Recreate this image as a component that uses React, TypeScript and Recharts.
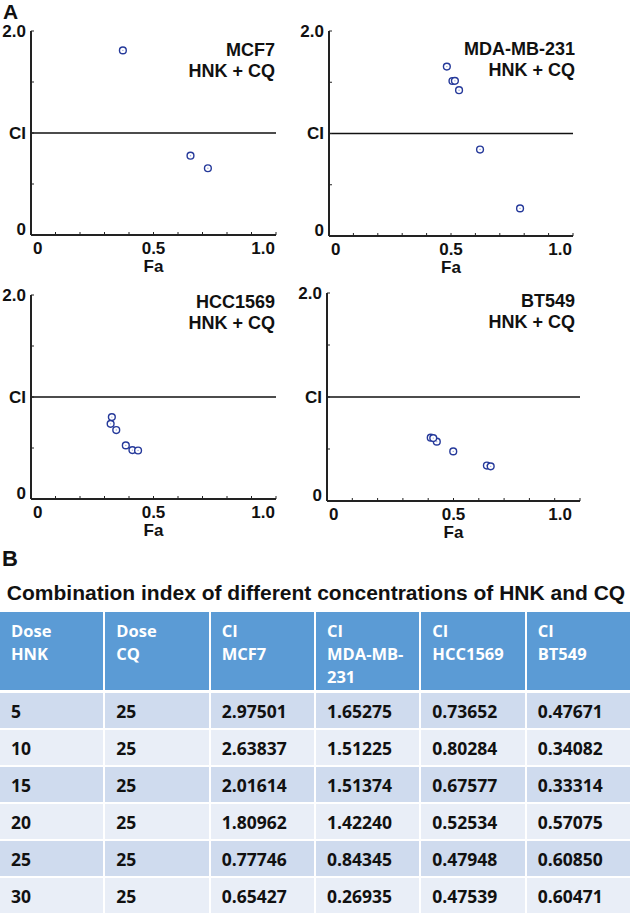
import { ScatterChart, Scatter, XAxis, YAxis, ReferenceLine } from 'recharts';

// table B values
const doseHNK = [5, 10, 15, 20, 25, 30];
const doseCQ = [25, 25, 25, 25, 25, 25];
const ciMCF7 = [2.97501, 2.63837, 2.01614, 1.80962, 0.77746, 0.65427];
const ciMDA = [1.65275, 1.51225, 1.51374, 1.4224, 0.84345, 0.26935];
const ciHCC = [0.73652, 0.80284, 0.67577, 0.52534, 0.47948, 0.47539];
const ciBT = [0.47671, 0.34082, 0.33314, 0.57075, 0.6085, 0.60471];

// Fa (null = CI above 2.0, point not on the plot)
const faMCF7 = [null, null, null, 0.375, 0.651, 0.722];
const faMDA = [0.483, 0.506, 0.516, 0.533, 0.619, 0.783];
const faHCC = [0.325, 0.33, 0.348, 0.387, 0.414, 0.437];
const faBT = [0.499, 0.632, 0.647, 0.434, 0.41, 0.42];

const faTicks = [0, 0.1, 0.2, 0.3, 0.4, 0.5, 0.6, 0.7, 0.8, 0.9, 1];
const ciTicks = [0, 0.5, 1, 1.5, 2];
const faLabels: Record<number, string> = { 0: '0', 0.5: '0.5', 1: '1.0' };
const ciLabels: Record<number, string> = { 0: '0', 1: 'CI', 2: '2.0' };

const tableHeaders = ['Dose\nHNK', 'Dose\nCQ', 'CI\nMCF7', 'CI\nMDA-MB-231', 'CI\nHCC1569', 'CI\nBT549'];

const AXIS = '#222';
const MARK = '#25399a';
const FONT = '"Liberation Sans", Arial, sans-serif';
const Y_W = 30;
const X_H = 30;

const panels = [
  { name: 'MCF7', ci: ciMCF7, fa: faMCF7, left: 0, top: 0, w: 300, h: 280, plot: { l: 31, t: 31, r: 276, b: 235 }, titleRight: 275, titleTop: 40, endDx: 0 },
  { name: 'MDA-MB-231', ci: ciMDA, fa: faMDA, left: 290, top: 0, w: 330, h: 280, plot: { l: 329, t: 31, r: 573, b: 236 }, titleRight: 575, titleTop: 39, endDx: 0 },
  { name: 'HCC1569', ci: ciHCC, fa: faHCC, left: 0, top: 265, w: 300, h: 285, plot: { l: 31, t: 295, r: 276, b: 499 }, titleRight: 275, titleTop: 292, endDx: 0 },
  { name: 'BT549', ci: ciBT, fa: faBT, left: 290, top: 265, w: 330, h: 285, plot: { l: 327, t: 293, r: 580, b: 501 }, titleRight: 575, titleTop: 291, endDx: -7 },
];

function Ring(props: any) {
  const { cx, cy } = props;
  return (
    <g>
      <circle cx={cx} cy={cy} r={3.4} fill="#fff" stroke={MARK} strokeWidth={1.4} />
      <circle cx={cx} cy={cy} r={0.7} fill="#9aa6d6" />
    </g>
  );
}

function FaTick(props: any) {
  const { x, y, payload, endDx } = props;
  const v = payload.value;
  const label = faLabels[v];
  const anchor = v === 0 ? 'start' : v === 1 ? 'end' : 'middle';
  const dx = v === 0 ? 2 : v === 1 ? -1 + endDx : 0;
  return (
    <g>
      <line x1={x} x2={x} y1={y} y2={y - 3} stroke={AXIS} strokeWidth={1} />
      {label && (
        <text x={x + dx} y={y + 13} textAnchor={anchor} dominantBaseline="central" fontFamily={FONT} fontWeight="bold" fontSize={17} fill="#111">
          {label}
        </text>
      )}
    </g>
  );
}

function CiTick(props: any) {
  const { x, y, payload } = props;
  const v = payload.value;
  const label = ciLabels[v];
  return (
    <g>
      <line x1={x} x2={x + 3} y1={y} y2={y} stroke={AXIS} strokeWidth={1} />
      {label && (
        <text x={x - 5} y={v === 0 ? y - 6 : y} textAnchor="end" dominantBaseline="central" fontFamily={FONT} fontWeight="bold" fontSize={17} fill="#111">
          {label}
        </text>
      )}
    </g>
  );
}

function Panel({ p }: { p: (typeof panels)[number] }) {
  const data = doseHNK
    .map((d, i) => ({ dose: d, fa: p.fa[i], ci: p.ci[i] }))
    .filter((d) => d.fa !== null);
  const margin = {
    left: p.plot.l - p.left - Y_W,
    top: p.plot.t - p.top,
    right: p.left + p.w - p.plot.r,
    bottom: p.top + p.h - p.plot.b - X_H,
  };
  return (
    <div style={{ position: 'absolute', left: p.left, top: p.top }}>
      <ScatterChart width={p.w} height={p.h} margin={margin}>
        <XAxis
          type="number"
          dataKey="fa"
          domain={[0, 1]}
          ticks={faTicks}
          interval={0}
          height={X_H}
          tickSize={0}
          tickMargin={0}
          axisLine={{ stroke: AXIS, strokeWidth: 2 }}
          tick={<FaTick endDx={p.endDx} />}
        />
        <YAxis
          type="number"
          dataKey="ci"
          domain={[0, 2]}
          ticks={ciTicks}
          interval={0}
          width={Y_W}
          tickSize={0}
          tickMargin={0}
          axisLine={{ stroke: AXIS, strokeWidth: 2 }}
          tick={<CiTick />}
        />
        <ReferenceLine y={1} stroke="#111" strokeWidth={1.5} />
        <Scatter data={data} shape={<Ring />} isAnimationActive={false} />
      </ScatterChart>
      <div
        style={{
          position: 'absolute',
          left: p.plot.l - p.left,
          width: p.plot.r - p.plot.l,
          top: p.plot.b - p.top + 22,
          textAlign: 'center',
          fontFamily: FONT,
          fontWeight: 'bold',
          fontSize: 17,
          lineHeight: '20px',
          color: '#111',
        }}
      >
        Fa
      </div>
      <div
        style={{
          position: 'absolute',
          right: p.left + p.w - p.titleRight,
          top: p.titleTop - p.top,
          textAlign: 'right',
          fontFamily: FONT,
          fontWeight: 'bold',
          fontSize: 18,
          lineHeight: '21px',
          color: '#111',
          whiteSpace: 'nowrap',
        }}
      >
        {p.name}
        <br />
        HNK + CQ
      </div>
    </div>
  );
}

export default function App() {
  const cols = [doseHNK, doseCQ, ciMCF7, ciMDA, ciHCC, ciBT];
  const cellFont = '"Open Sans", "Noto Sans", sans-serif';
  return (
    <div style={{ position: 'relative', width: 630, height: 913, background: '#fff', overflow: 'hidden' }}>
      <style>{`body{margin:0}`}</style>
      <div style={{ position: 'absolute', left: 3, top: 0, fontFamily: FONT, fontWeight: 'bold', fontSize: 21, color: '#111' }}>A</div>
      {panels.map((p) => (
        <Panel key={p.name} p={p} />
      ))}

      <div style={{ position: 'absolute', left: 2, top: 546, fontFamily: FONT, fontWeight: 'bold', fontSize: 22, color: '#111' }}>B</div>
      <div
        style={{
          position: 'absolute',
          left: 0,
          width: 632,
          top: 581,
          textAlign: 'center',
          fontFamily: FONT,
          fontWeight: 'bold',
          fontSize: 21,
          whiteSpace: 'nowrap',
          color: '#111',
        }}
      >
        Combination index of different concentrations of HNK and CQ
      </div>

      <div
        style={{
          position: 'absolute',
          left: 0,
          top: 612,
          width: 630,
          display: 'grid',
          gridTemplateColumns: 'repeat(6, 1fr)',
          columnGap: 2,
          rowGap: 2,
          fontFamily: cellFont,
          fontWeight: 700,
          fontSize: 17.5,
        }}
      >
        {tableHeaders.map((h) => (
          <div
            key={h}
            style={{
              background: '#5b9bd5',
              color: '#fff',
              height: 78,
              boxSizing: 'border-box',
              padding: '7px 11px',
              lineHeight: '23px',
              fontSize: 16.5,
              whiteSpace: 'pre-line',
            }}
          >
            {h}
          </div>
        ))}
        {doseHNK.map((_, r) =>
          cols.map((col, c) => (
            <div
              key={`${r}-${c}`}
              style={{
                background: r % 2 === 0 ? '#cfdbee' : '#e9eef7',
                color: '#111',
                height: 35,
                marginTop: r === 0 ? 1 : 0,
                display: 'flex',
                alignItems: 'center',
                paddingLeft: 11,
              }}
            >
              {c >= 2 ? col[r].toFixed(5) : col[r]}
            </div>
          ))
        )}
      </div>
    </div>
  );
}
